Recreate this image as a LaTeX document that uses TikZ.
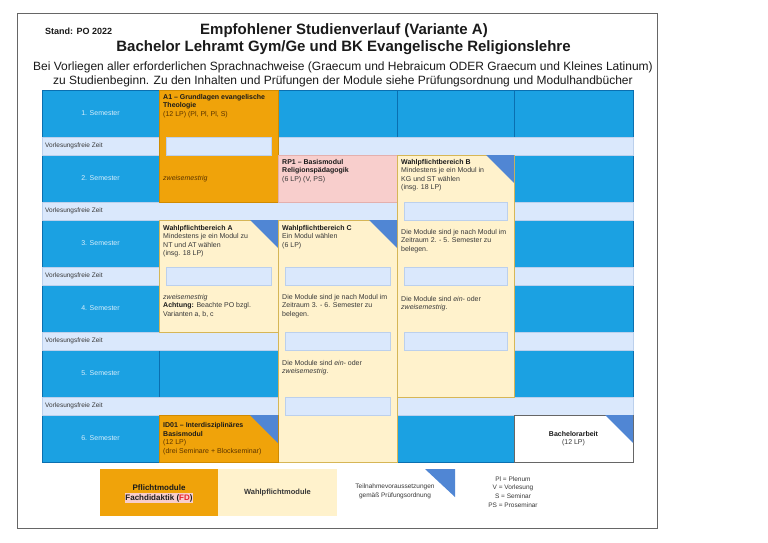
\documentclass[tikz,border=0pt]{standalone}
\usepackage{fontspec}
\setmainfont{Liberation Sans}
\definecolor{semblue}{HTML}{1BA1E2}
\definecolor{semline}{HTML}{0A6FB0}
\definecolor{vfzfill}{HTML}{DAE8FC}
\definecolor{vfzline}{HTML}{BCD0EC}
\definecolor{orangeA}{HTML}{F0A30A}
\definecolor{orangeline}{HTML}{D08A00}
\definecolor{yellowW}{HTML}{FFF2CC}
\definecolor{yellowline}{HTML}{D6B656}
\definecolor{pinkP}{HTML}{F8CECC}
\definecolor{pinkline}{HTML}{E3B0AE}
\definecolor{triblue}{RGB}{80,134,212}
\definecolor{txtdark}{HTML}{1A1A1A}
\definecolor{txtsoft}{HTML}{383838}
\definecolor{semtxt}{HTML}{D8EEFB}
\definecolor{orangetxt}{HTML}{5A3300}
\definecolor{fdred}{HTML}{E8202A}
\definecolor{framegray}{HTML}{666666}
\newcommand{\vfzslot}[3]{\draw[slot] (#1+7,#3) rectangle (#2-7,#3+18);}
\newcommand{\cornertri}[2]{\fill[triblue] (#1-28,#2) -- (#1,#2) -- (#1,#2+28) -- cycle;}
\begin{document}
\begin{tikzpicture}[x=1pt,y=-1pt,
  semcell/.style={fill=semblue,draw=semline,line width=0.5pt},
  vfz/.style={fill=vfzfill,draw=vfzline,line width=0.4pt},
  slot/.style={fill=vfzfill,draw=vfzline,line width=0.3pt},
  orangebox/.style={fill=orangeA,draw=orangeline,line width=0.4pt},
  yellowbox/.style={fill=yellowW,draw=yellowline,line width=0.4pt},
  pinkbox/.style={fill=pinkP,draw=pinkline,line width=0.4pt},
  semlabel/.style={font=\fontsize{7}{8.5}\selectfont,text=semtxt,inner sep=0pt},
  vfzlabel/.style={font=\fontsize{6.5}{8}\selectfont,text=txtsoft,anchor=west,inner sep=0pt},
  modtext/.style={font=\fontsize{7}{8.5}\selectfont,align=left,anchor=north west,inner sep=0pt,text=txtsoft},
  orangetext/.style={modtext,text=orangetxt},
  legendtext/.style={font=\fontsize{6.5}{8.7}\selectfont,align=center,inner sep=0pt,text=txtsoft}
]
\useasboundingbox (0,0) rectangle (768,543);
\fill[white] (0,0) rectangle (768,543);
\draw[framegray,line width=1pt] (17,14) rectangle (657,528);

% header
\node[anchor=west,inner sep=0pt,font=\fontsize{9}{10}\selectfont\bfseries,text=txtdark] (stand) at (45,31) {Stand: PO 2022};
\node[inner sep=0pt,font=\fontsize{15}{16}\selectfont\bfseries,text=txtdark] (title1) at (344,30.5) {Empfohlener Studienverlauf (Variante A)};
\node[inner sep=0pt,font=\fontsize{15}{16}\selectfont\bfseries,text=txtdark] (title2) at (343.5,47.5) {Bachelor Lehramt Gym/Ge und BK Evangelische Religionslehre};
\node[inner sep=0pt,align=center,font=\fontsize{12}{14}\selectfont,text=txtdark] (intro) at (343,74)
 {Bei Vorliegen aller erforderlichen Sprachnachweise (Graecum und Hebraicum ODER Graecum und Kleines Latinum)\\
  zu Studienbeginn. Zu den Inhalten und Prüfungen der Module siehe Prüfungsordnung und Modulhandbücher};

% semester rows
\foreach \k in {1,...,6}{
  \pgfmathsetmacro{\T}{90+65*(\k-1)}
  \foreach \a/\b in {42/159,159/278,278/397,397/514,514/633}{
    \draw[semcell] (\a,\T) rectangle (\b,\T+47);
  }
  \node[semlabel] (sem\k) at (100.5,\T+23.5) {\k. Semester};
}
% lecture-free rows
\foreach \k in {1,...,5}{
  \pgfmathsetmacro{\B}{137+65*(\k-1)}
  \draw[vfz] (42,\B) rectangle (633,\B+18);
  \node[vfzlabel] (vfz\k) at (45,\B+9) {Vorlesungsfreie Zeit};
}

% A1
\draw[orangebox] (159,90) rectangle (278,202);
\vfzslot{159}{278}{137}
\node[orangetext] (a1) at (163,94) {\textcolor{txtdark}{\textbf{A1 – Grundlagen evangelische}}\\\textcolor{txtdark}{\textbf{Theologie}}\\(12 LP) (Pl, Pl, Pl, S)};
\node[orangetext,anchor=west] (a1z) at (163,178.5) {\textit{zweisemestrig}};

% RP1
\draw[pinkbox] (278,155) rectangle (397,202);
\node[modtext] (rp1) at (282,159) {\textcolor{txtdark}{\textbf{RP1 – Basismodul}}\\\textcolor{txtdark}{\textbf{Religionspädagogik}}\\(6 LP) (V, PS)};

% Wahlpflichtbereich B
\draw[yellowbox] (397,155) rectangle (514,397);
\cornertri{514}{155}
\vfzslot{397}{514}{202}
\vfzslot{397}{514}{267}
\vfzslot{397}{514}{332}
\node[modtext] (wb) at (401,159) {\textcolor{txtdark}{\textbf{Wahlpflichtbereich B}}\\Mindestens je ein Modul in\\KG und ST wählen\\(insg. 18 LP)};
\node[modtext] (wb3) at (401,229) {Die Module sind je nach Modul im\\Zeitraum 2. - 5. Semester zu\\belegen.};
\node[modtext] (wb4) at (401,296) {Die Module sind \textit{ein-} oder\\\textit{zweisemestrig}.};

% Wahlpflichtbereich A
\draw[yellowbox] (159,220) rectangle (278,332);
\cornertri{278}{220}
\vfzslot{159}{278}{267}
\node[modtext] (wa) at (163,225) {\textcolor{txtdark}{\textbf{Wahlpflichtbereich A}}\\Mindestens je ein Modul zu\\NT und AT wählen\\(insg. 18 LP)};
\node[modtext] (wa4) at (163,294) {\textit{zweisemestrig}\\\textcolor{txtdark}{\textbf{Achtung:}} Beachte PO bzgl.\\Varianten a, b, c};

% Wahlpflichtbereich C
\draw[yellowbox] (278,220) rectangle (397,462);
\cornertri{397}{220}
\vfzslot{278}{397}{267}
\vfzslot{278}{397}{332}
\vfzslot{278}{397}{397}
\node[modtext] (wc) at (282,225) {\textcolor{txtdark}{\textbf{Wahlpflichtbereich C}}\\Ein Modul wählen\\(6 LP)};
\node[modtext] (wc4) at (282,294) {Die Module sind je nach Modul im\\Zeitraum 3. - 6. Semester zu\\belegen.};
\node[modtext] (wc5) at (282,360) {Die Module sind \textit{ein-} oder\\\textit{zweisemestrig}.};

% ID01
\draw[orangebox] (159,415) rectangle (278,462);
\cornertri{278}{415}
\node[orangetext,anchor=west] (id01) at (163,438.5) {\textcolor{txtdark}{\textbf{ID01 – Interdisziplinäres}}\\\textcolor{txtdark}{\textbf{Basismodul}}\\(12 LP)\\(drei Seminare + Blockseminar)};

% Bachelorarbeit
\draw[fill=white,draw=framegray,line width=0.6pt] (514,415) rectangle (633,462);
\cornertri{633}{415}
\node[modtext,anchor=center,align=center] (ba) at (573.5,438.5) {\textcolor{txtdark}{\textbf{Bachelorarbeit}}\\(12 LP)};

% legend
\fill[orangeA] (100,469) rectangle (218,516);
\fill[yellowW] (218,469) rectangle (337,516);
\node[inner sep=0pt,font=\fontsize{8}{9}\selectfont\bfseries,text=txtdark] (legP) at (159,487.5) {Pflichtmodule};
\node[inner sep=0.8pt,fill=pinkP,font=\fontsize{8}{9}\selectfont\bfseries,text=txtdark] (legFD) at (159,498) {Fachdidaktik (\textcolor{fdred}{FD})};
\node[inner sep=0pt,font=\fontsize{7.5}{9}\selectfont\bfseries,text=txtsoft] (legW) at (277.5,492.5) {Wahlpflichtmodule};
\fill[triblue] (425,469) -- (455,469) -- (455,497) -- cycle;
\node[legendtext] (legT) at (395,491.5) {Teilnahmevoraussetzungen\\gemäß Prüfungsordnung};
\node[legendtext] (legAbk) at (513,492) {Pl = Plenum\\V = Vorlesung\\S = Seminar\\PS = Proseminar};
\end{tikzpicture}
\end{document}
